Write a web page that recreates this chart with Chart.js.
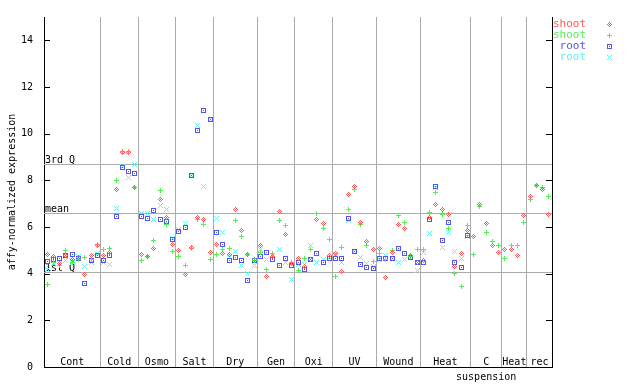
<!DOCTYPE html>
<html>
<head>
<meta charset="utf-8">
<script src="https://cdn.jsdelivr.net/npm/chart.js@4.4.0/dist/chart.umd.min.js"></script>
<style>
  body { margin: 0; background: #fff; }
  #chart { display: block; }
</style>
</head>
<body>
<canvas id="chart" width="640" height="384"></canvas>
<script>
// groups of samples along the x axis
const groupLabels = ["Cont", "Cold", "Osmo", "Salt", "Dry", "Gen", "Oxi", "UV", "Wound", "Heat", ["C", "suspension"], "Heat", "rec"];
const groupSizes = [9, 6, 6, 6, 7, 6, 6, 7, 7, 8, 5, 4, 4];

const yTicks = [0, 2, 4, 6, 8, 10, 12, 14];
const statLabels = ["3rd Q", "mean", "1st Q"];
const statValues = [8.68, 6.61, 4.08];

const seriesLabels = ["shoot", "shoot", "root", "root"];
const seriesColors = ["#f55", "#5e5", "#55e", "#6ee"];

const shootA = [
  4.81, 4.74, 4.43, 4.77, 4.60, 4.70, 3.96, 4.77, 5.20, // Cont
  4.77, 4.90, 7.62, 9.20, 9.20, 7.68,                   // Cold
  4.84, 4.74, 5.06, 7.16, 6.40, 5.23,                   // Osmo
  4.98, 3.96, 5.13, 6.40, 6.31, 4.92,                   // Salt
  5.26, 4.88, 4.84, 6.73, 5.86, 4.84, 4.60,             // Dry
  5.19, 3.87, 4.74, 6.66, 5.69, 4.45,                   // Gen
  4.65, 4.31, 4.60, 6.34, 6.14, 4.80,                   // Oxi
  4.85, 4.08, 7.38, 7.73, 6.19, 5.40, 5.02,             // UV
  5.09, 3.83, 4.90, 6.12, 5.93, 4.80, 4.46,             // Wound
  4.57, 6.40, 6.95, 6.73, 6.52, 4.29, 4.88, 5.83,       // Heat
  5.61, 6.95, 6.14, 5.20, 4.90,                         // C suspension
  5.02, 5.02, 4.80, 6.50,                               // Heat
  7.30, 7.76, 7.62, 6.54                                // rec
];
const shootB = [
  3.54, 4.50, 4.34, 4.98, 4.50, 4.60, 4.68, 4.60, 5.27,
  5.02, 5.06, 8.00, 9.24, 9.24, 7.70,
  4.55, 4.74, 5.44, 7.55, 6.12, 4.95,
  4.74, 4.37, 5.06, 6.31, 6.10, 4.60,
  4.81, 5.05, 5.09, 6.28, 5.60, 4.84, 4.55,
  4.90, 4.20, 4.88, 6.26, 6.06, 4.48,
  4.12, 4.63, 5.02, 6.59, 5.93, 5.47,
  3.87, 5.13, 6.73, 7.62, 6.12, 5.19, 4.53,
  4.88, 4.60, 4.98, 6.50, 6.19, 4.75, 5.05,
  5.02, 6.63, 7.48, 6.52, 5.93, 4.00, 3.45, 6.06,
  4.84, 6.87, 5.76, 5.40, 5.19,
  4.67, 5.19, 5.19, 6.21,
  7.16, 7.76, 7.70, 7.30
];
const rootA = [
  4.52, 4.62, 4.63, 4.77, 4.81, 4.64, 3.57, 4.55, 4.77,
  4.55, 4.77, 6.45, 8.56, 8.39, 8.30,
  6.45, 6.35, 6.71, 6.31, 6.24, 5.48,
  5.79, 5.96, 8.21, 10.15, 11.00, 10.60,
  5.76, 5.23, 4.55, 4.71, 4.55, 3.71, 4.55,
  4.74, 4.92, 4.60, 4.37, 4.64, 4.37,
  4.48, 4.20, 4.60, 4.88, 4.50, 4.63,
  4.67, 4.63, 6.35, 4.95, 4.39, 4.25, 4.22,
  4.63, 4.63, 4.67, 5.09, 4.88, 4.71, 4.46,
  4.46, 6.31, 7.73, 5.43, 6.21, 4.50, 4.25, 5.62,
  null, null, null, null, null,
  null, null, null, null,
  null, null, null, null
];
const rootB = [
  4.20, 4.45, 4.45, 4.55, 4.50, 4.72, 4.30, 4.50, 4.85,
  4.50, 4.39, 6.78, 8.60, 8.14, 8.67,
  6.57, 6.60, 6.31, 6.92, 6.73, 5.50,
  5.90, 6.17, 8.20, 10.33, 7.72, 10.60,
  6.35, 5.76, 4.70, 4.95, 4.36, 4.00, 4.36,
  5.05, 4.60, 4.80, 5.02, 4.50, 3.75,
  4.40, 4.40, 5.19, 4.46, 4.60, 4.70,
  4.84, 4.50, 6.30, 4.95, 4.71, 4.43, 4.30,
  4.60, 4.80, 4.67, 4.48, 4.60, 4.71, 4.15,
  4.90, 5.72, 7.70, 5.13, 5.76, 4.95, 4.63, 5.60,
  null, null, null, null, null,
  null, null, null, null,
  null, null, null, null
];

const FONT = '"DejaVu Sans Mono", monospace';

// group boundaries and centres in sample units
const bounds = [0];
groupSizes.forEach(n => bounds.push(bounds[bounds.length - 1] + n));
const total = bounds[bounds.length - 1];
const centres = groupSizes.map((n, i) => bounds[i] + n / 2);

// small pixel markers like the original plot
function marker(kind, color) {
  const c = document.createElement("canvas");
  c.width = 5; c.height = 5;
  const g = c.getContext("2d");
  g.fillStyle = color;
  for (let dy = -2; dy <= 2; dy++) {
    for (let dx = -2; dx <= 2; dx++) {
      const ax = Math.abs(dx), ay = Math.abs(dy);
      let on = false;
      if (kind == "diamond") on = ax + ay == 2 || (ax == 0 && ay == 0);
      if (kind == "plus") on = dx == 0 || dy == 0;
      if (kind == "square") on = Math.max(ax, ay) == 2 || (ax == 0 && ay == 0);
      if (kind == "x") on = ax == ay;
      if (on) g.fillRect(dx + 2, dy + 2, 1, 1);
    }
  }
  return c;
}
const markerKinds = ["diamond", "plus", "square", "x"];
const markers = markerKinds.map((k, i) => marker(k, seriesColors[i]));

const seriesValues = [shootA, shootB, rootA, rootB];
const datasets = seriesValues.map((vals, i) => ({
  label: seriesLabels[i],
  data: vals.map((v, j) => ({ x: j + 0.5, y: v })).filter(p => p.y !== null),
  pointStyle: markers[i],
  pointRadius: 3,
  showLine: false
}));

const decor = {
  id: "decor",
  beforeDatasetsDraw(chart) {
    const { ctx, chartArea: a, scales: { x, y } } = chart;
    ctx.save();
    ctx.strokeStyle = "#aaa";
    ctx.lineWidth = 1;
    ctx.font = "10px " + FONT;
    statValues.forEach((v, i) => {
      const py = Math.round(y.getPixelForValue(v)) + 0.5;
      ctx.beginPath();
      ctx.moveTo(a.left, py);
      ctx.lineTo(a.right, py);
      ctx.stroke();
      ctx.fillStyle = "#000";
      ctx.textAlign = "left";
      ctx.textBaseline = "bottom";
      ctx.fillText(statLabels[i], a.left + 1, py + 1);
    });
    // group names, first line inside the plot, second below the axis
    ctx.textAlign = "center";
    ctx.textBaseline = "middle";
    ctx.fillStyle = "#000";
    groupLabels.forEach((lab, i) => {
      const lines = Array.isArray(lab) ? lab : [lab];
      const px = x.getPixelForValue(centres[i]);
      lines.forEach((t, k) => ctx.fillText(t, px, a.bottom - 5 + k * 15));
    });
    ctx.restore();
    ctx.imageSmoothingEnabled = false;
  },
  afterDraw(chart) {
    const { ctx, chartArea: a, scales: { y } } = chart;
    ctx.save();
    // inward tick marks on both vertical axes
    ctx.strokeStyle = "#000";
    ctx.lineWidth = 1;
    yTicks.forEach(v => {
      if (v == 0) return;
      const py = Math.round(y.getPixelForValue(v)) + 0.5;
      ctx.beginPath();
      ctx.moveTo(a.left, py); ctx.lineTo(a.left + 6, py);
      ctx.moveTo(a.right - 6, py); ctx.lineTo(a.right, py);
      ctx.stroke();
    });
    // legend: coloured names then the marker
    ctx.font = "11px " + FONT;
    ctx.textAlign = "right";
    ctx.textBaseline = "middle";
    ctx.imageSmoothingEnabled = false;
    seriesLabels.forEach((lab, i) => {
      const ry = 24 + i * 11;
      ctx.fillStyle = seriesColors[i];
      ctx.fillText(lab, a.right + 34, ry);
      ctx.drawImage(markers[i], a.right + 55, ry - 2);
    });
    ctx.restore();
  }
};

new Chart(document.getElementById("chart"), {
  type: "scatter",
  data: { datasets: datasets },
  plugins: [decor],
  options: {
    responsive: false,
    devicePixelRatio: 1,
    animation: false,
    layout: { padding: { top: 13, right: 88, bottom: 15, left: 0 } },
    plugins: { legend: { display: false }, tooltip: { enabled: false } },
    scales: {
      x: {
        type: "linear",
        min: 0,
        max: total,
        afterBuildTicks: s => { s.ticks = bounds.slice(1, -1).map(v => ({ value: v })); },
        afterFit: s => { s.height = 0; },
        ticks: { display: false },
        grid: { color: "#aaa", lineWidth: 1, drawTicks: false },
        border: { display: true, color: "#000", width: 1 }
      },
      y: {
        min: 0,
        max: 15,
        afterBuildTicks: s => { s.ticks = yTicks.map(v => ({ value: v })); },
        afterFit: s => { s.width = 44; },
        ticks: { color: "#000", font: { family: FONT, size: 10 }, padding: 11 },
        grid: { display: false, drawTicks: false },
        border: { display: true, color: "#000", width: 1 },
        title: {
          display: true,
          text: "affy-normalized expression",
          color: "#000",
          font: { family: FONT, size: 10 },
          padding: { top: 6, bottom: 0 }
        }
      },
      y2: {
        position: "right",
        min: 0,
        max: 15,
        afterFit: s => { s.width = 0; },
        ticks: { display: false },
        grid: { display: false, drawTicks: false },
        border: { display: true, color: "#000", width: 1 }
      }
    }
  }
});
</script>
</body>
</html>
